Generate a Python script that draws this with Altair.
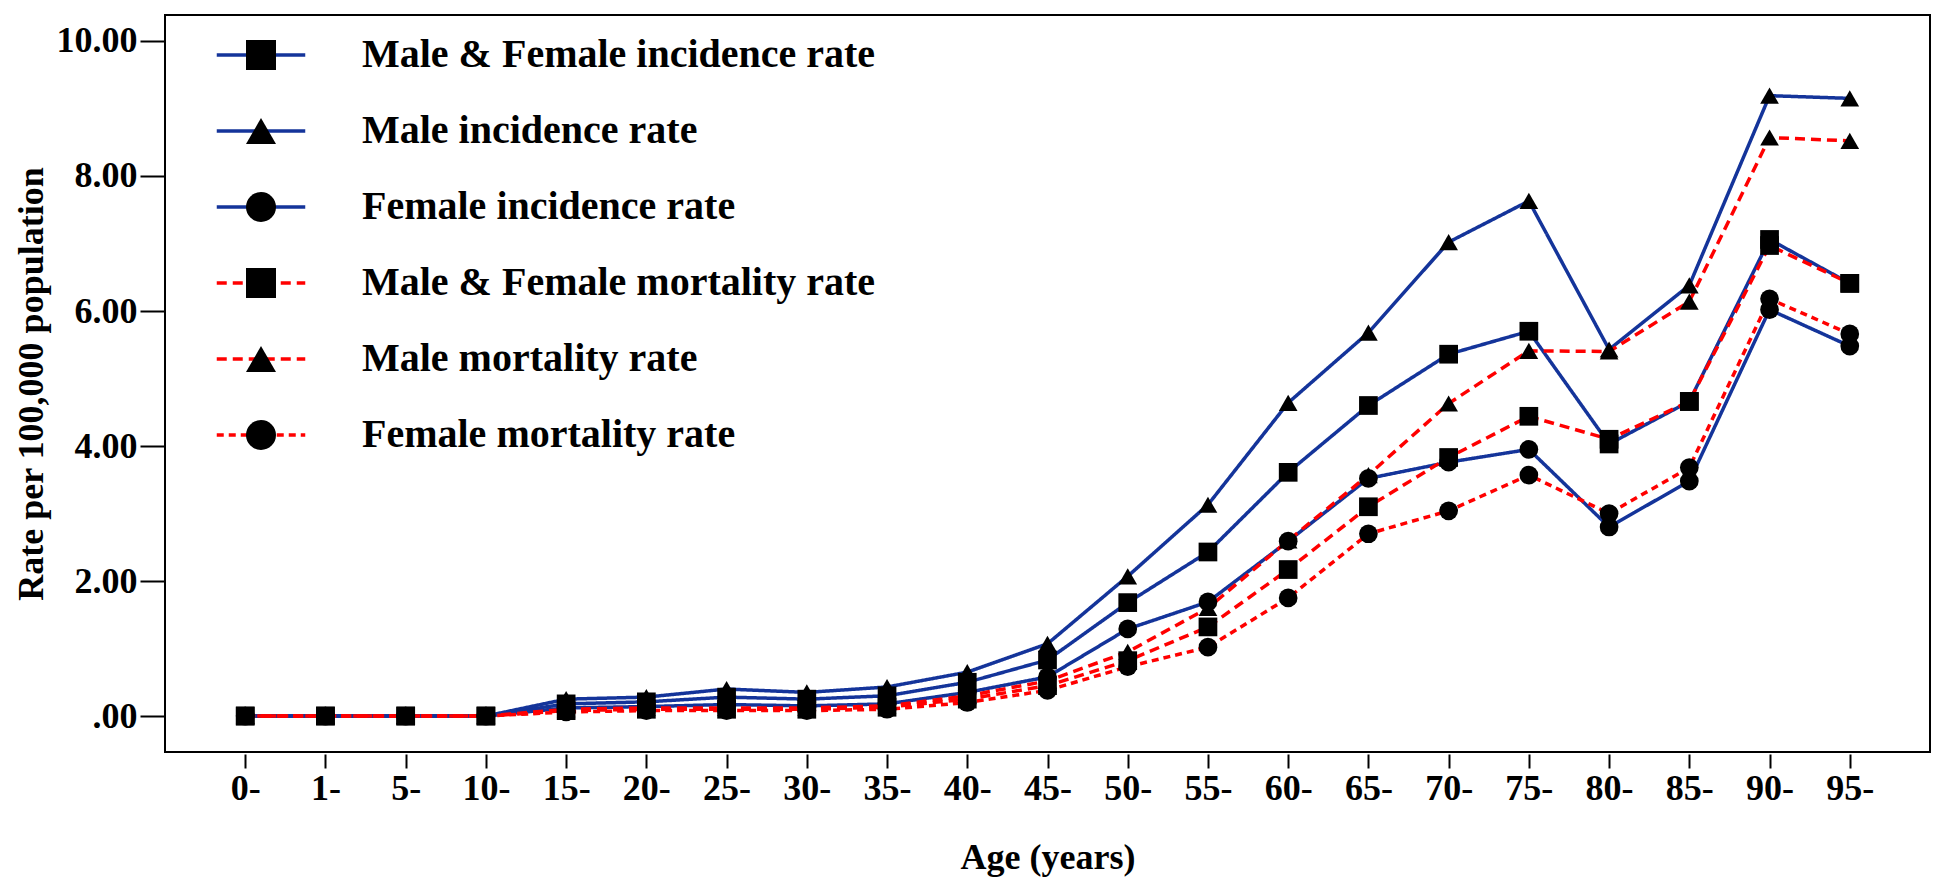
import altair as alt
import pandas as pd

ages = ["0-", "1-", "5-", "10-", "15-", "20-", "25-", "30-", "35-", "40-", "45-",
        "50-", "55-", "60-", "65-", "70-", "75-", "80-", "85-", "90-", "95-"]

series_names = [
    "Male & Female incidence rate",
    "Male incidence rate",
    "Female incidence rate",
    "Male & Female mortality rate",
    "Male mortality rate",
    "Female mortality rate",
]

mf_incidence = [0, 0, 0, 0, 0.18, 0.21, 0.28, 0.25, 0.30, 0.50, 0.83,
                1.68, 2.43, 3.61, 4.60, 5.36, 5.70, 4.03, 4.66, 7.06, 6.41]
male_incidence = [0, 0, 0, 0, 0.25, 0.28, 0.40, 0.35, 0.43, 0.65, 1.07,
                  2.07, 3.13, 4.64, 5.68, 7.02, 7.63, 5.43, 6.38, 9.19, 9.15]
female_incidence = [0, 0, 0, 0, 0.12, 0.14, 0.17, 0.15, 0.18, 0.35, 0.58,
                    1.29, 1.69, 2.59, 3.52, 3.76, 3.95, 2.80, 3.48, 6.02, 5.48]
mf_mortality = [0, 0, 0, 0, 0.08, 0.10, 0.10, 0.10, 0.13, 0.25, 0.45,
                0.82, 1.32, 2.17, 3.10, 3.83, 4.44, 4.10, 4.66, 6.97, 6.41]
male_mortality = [0, 0, 0, 0, 0.10, 0.12, 0.12, 0.12, 0.15, 0.30, 0.52,
                  0.95, 1.60, 2.60, 3.57, 4.63, 5.41, 5.40, 6.14, 8.57, 8.52]
female_mortality = [0, 0, 0, 0, 0.06, 0.08, 0.08, 0.08, 0.10, 0.20, 0.38,
                    0.73, 1.02, 1.75, 2.70, 3.04, 3.57, 3.00, 3.68, 6.18, 5.66]

y_ticks = [0, 2, 4, 6, 8, 10]

line_colors = ["#14349a", "#14349a", "#14349a", "#ff0000", "#ff0000", "#ff0000"]
line_dashes = [[1, 0], [1, 0], [1, 0], [10, 6], [10, 6], [7, 5]]
line_widths = [3.5, 3.5, 3.5, 4, 4, 5.5]
marker_shapes = ["square", "triangle-up", "circle", "square", "triangle-up", "circle"]

all_values = [mf_incidence, male_incidence, female_incidence,
              mf_mortality, male_mortality, female_mortality]
rows = []
for name, vals in zip(series_names, all_values):
    for a, v in zip(ages, vals):
        rows.append({"age": a, "series": name, "marker": "pt " + name, "value": v})
df = pd.DataFrame(rows)
marker_domain = ["pt " + s for s in series_names]

FONT = "Liberation Serif"

x_enc = alt.X(
    "age:N", sort=ages,
    scale=alt.Scale(type="point", padding=1.69),
    axis=alt.Axis(
        title="Age (years)", labelAngle=0, domain=False, offset=2,
        tickSize=14, tickWidth=2, tickColor="black",
        labelFontSize=36, labelPadding=3, titlePadding=34, titleFontSize=36,
        labelFont=FONT, titleFont=FONT, labelFontWeight="bold", titleFontWeight="bold",
        labelColor="black", titleColor="black",
    ),
)
y_enc = alt.Y(
    "value:Q",
    scale=alt.Scale(domain=[-0.533, 10.385], nice=False, zero=False),
    axis=alt.Axis(
        title="Rate per 100,000 population", values=y_ticks, grid=False,
        labelExpr="datum.value == 0 ? '.00' : format(datum.value, '.2f')",
        tickSize=25, tickWidth=2, tickColor="black", domain=False,
        labelFontSize=36, labelPadding=3, titleFontSize=36, titlePadding=6,
        labelFont=FONT, titleFont=FONT, labelFontWeight="bold", titleFontWeight="bold",
        labelColor="black", titleColor="black",
    ),
)

LEG_X = 76
LEG_Y = 20
LEG_ROWPAD = 36
LEG_SIZE = 900

line_legend = alt.Legend(
    orient="none", legendX=LEG_X, legendY=LEG_Y, title=None,
    symbolType="M-2.95,0H2.95", symbolSize=LEG_SIZE, symbolStrokeWidth=4,
    labelFontSize=40, labelFont=FONT, labelFontWeight="bold", labelColor="black",
    labelOffset=81, labelLimit=1000, rowPadding=LEG_ROWPAD, padding=0,
)

lines = alt.Chart(df).mark_line().encode(
    x=x_enc,
    y=y_enc,
    color=alt.Color("series:N", scale=alt.Scale(domain=series_names, range=line_colors),
                    legend=line_legend),
    strokeDash=alt.StrokeDash("series:N", scale=alt.Scale(domain=series_names, range=line_dashes),
                              legend=line_legend),
    strokeWidth=alt.StrokeWidth("series:N", scale=alt.Scale(domain=series_names, range=line_widths),
                                legend=None),
    detail="series:N",
)

points = alt.Chart(df).mark_point(
    filled=True, color="black", opacity=1, size=350
).encode(
    x=x_enc,
    y=y_enc,
    shape=alt.Shape(
        "marker:N", scale=alt.Scale(domain=marker_domain, range=marker_shapes),
        legend=alt.Legend(
            orient="none", legendX=LEG_X, legendY=LEG_Y, title=None,
            symbolSize=LEG_SIZE, symbolFillColor="black", symbolStrokeColor="black",
            symbolStrokeWidth=0, symbolOpacity=1,
            labelExpr="''",
            labelFontSize=40, labelFont=FONT, labelFontWeight="bold",
            labelOffset=81, labelLimit=1000, rowPadding=LEG_ROWPAD, padding=0,
        ),
    ),
)

chart = alt.layer(lines, points).properties(
    width=1765, height=737,
    background="white",
    autosize=alt.AutoSizeParams(type="none"),
    padding={"left": 157, "top": 7, "right": 5, "bottom": 130},
).configure_view(
    stroke="black", strokeWidth=2,
)

chart.save("out.html", embed_options={"renderer": "svg", "actions": False})
